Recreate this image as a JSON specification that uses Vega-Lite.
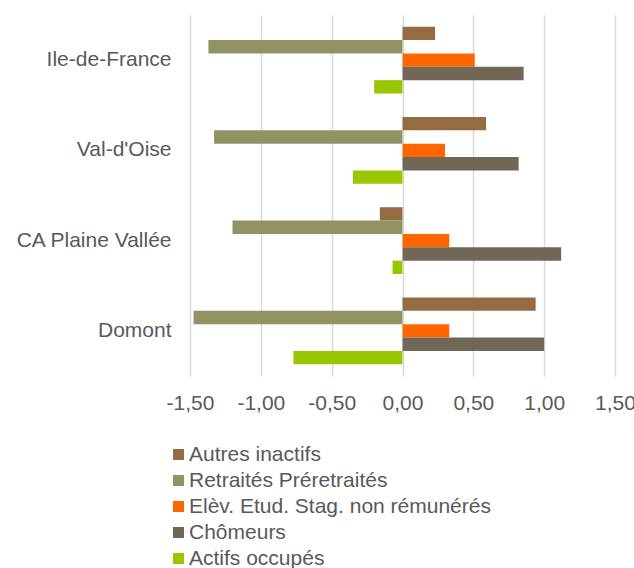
{
  "$schema": "https://vega.github.io/schema/vega-lite/v6.json",
  "width": 425,
  "height": 361,
  "autosize": "none",
  "padding": {"left": 190, "top": 15, "right": 19, "bottom": 192},
  "background": "white",
  "config": {
    "locale": {"number": {"decimal": ",", "thousands": " ", "grouping": [3], "currency": ["", " €"], "minus": "-"}},
    "view": {"stroke": null},
    "font": "Liberation Sans",
    "axis": {"labelFont": "Liberation Sans", "labelColor": "#595959", "labelFontSize": 21},
    "legend": {"labelFont": "Liberation Sans", "labelColor": "#595959", "labelFontSize": 21}
  },
  "data": {
    "values": [
      {"zone": "Ile-de-France", "serie": "Autres inactifs", "valeur": 0.23},
      {"zone": "Ile-de-France", "serie": "Retraités Préretraités", "valeur": -1.37},
      {"zone": "Ile-de-France", "serie": "Elèv. Etud. Stag. non rémunérés", "valeur": 0.51},
      {"zone": "Ile-de-France", "serie": "Chômeurs", "valeur": 0.855},
      {"zone": "Ile-de-France", "serie": "Actifs occupés", "valeur": -0.2},
      {"zone": "Val-d'Oise", "serie": "Autres inactifs", "valeur": 0.59},
      {"zone": "Val-d'Oise", "serie": "Retraités Préretraités", "valeur": -1.33},
      {"zone": "Val-d'Oise", "serie": "Elèv. Etud. Stag. non rémunérés", "valeur": 0.3},
      {"zone": "Val-d'Oise", "serie": "Chômeurs", "valeur": 0.82},
      {"zone": "Val-d'Oise", "serie": "Actifs occupés", "valeur": -0.35},
      {"zone": "CA Plaine Vallée", "serie": "Autres inactifs", "valeur": -0.16},
      {"zone": "CA Plaine Vallée", "serie": "Retraités Préretraités", "valeur": -1.2},
      {"zone": "CA Plaine Vallée", "serie": "Elèv. Etud. Stag. non rémunérés", "valeur": 0.33},
      {"zone": "CA Plaine Vallée", "serie": "Chômeurs", "valeur": 1.12},
      {"zone": "CA Plaine Vallée", "serie": "Actifs occupés", "valeur": -0.07},
      {"zone": "Domont", "serie": "Autres inactifs", "valeur": 0.94},
      {"zone": "Domont", "serie": "Retraités Préretraités", "valeur": -1.475},
      {"zone": "Domont", "serie": "Elèv. Etud. Stag. non rémunérés", "valeur": 0.33},
      {"zone": "Domont", "serie": "Chômeurs", "valeur": 1.0},
      {"zone": "Domont", "serie": "Actifs occupés", "valeur": -0.77}
    ]
  },
  "mark": {"type": "bar"},
  "encoding": {
    "y": {
      "field": "zone",
      "type": "nominal",
      "sort": ["Ile-de-France", "Val-d'Oise", "CA Plaine Vallée", "Domont"],
      "scale": {"paddingInner": 0.26, "paddingOuter": 0.13},
      "axis": {"title": null, "ticks": false, "domain": false, "labelPadding": 19, "grid": false}
    },
    "yOffset": {
      "field": "serie",
      "type": "nominal",
      "sort": ["Autres inactifs", "Retraités Préretraités", "Elèv. Etud. Stag. non rémunérés", "Chômeurs", "Actifs occupés"]
    },
    "x": {
      "field": "valeur",
      "type": "quantitative",
      "scale": {"domain": [-1.5, 1.5], "nice": false, "zero": false},
      "axis": {"title": null, "values": [-1.5, -1, -0.5, 0, 0.5, 1, 1.5], "format": ".2f", "ticks": false, "domain": false, "grid": true, "gridColor": "#d9d9d9", "gridWidth": 1.5, "labelPadding": 16, "labelFlush": false}
    },
    "color": {
      "field": "serie",
      "type": "nominal",
      "sort": ["Autres inactifs", "Retraités Préretraités", "Elèv. Etud. Stag. non rémunérés", "Chômeurs", "Actifs occupés"],
      "scale": {
        "domain": ["Autres inactifs", "Retraités Préretraités", "Elèv. Etud. Stag. non rémunérés", "Chômeurs", "Actifs occupés"],
        "range": ["#956B43", "#929365", "#FF6600", "#716756", "#99C600"]
      },
      "legend": {
        "title": null,
        "orient": "none",
        "legendX": -22,
        "legendY": 429,
        "direction": "vertical",
        "symbolType": "square",
        "symbolSize": 121,
        "symbolStrokeWidth": 0,
        "labelOffset": 0,
        "rowPadding": 4,
        "labelLimit": 400
      }
    }
  }
}
